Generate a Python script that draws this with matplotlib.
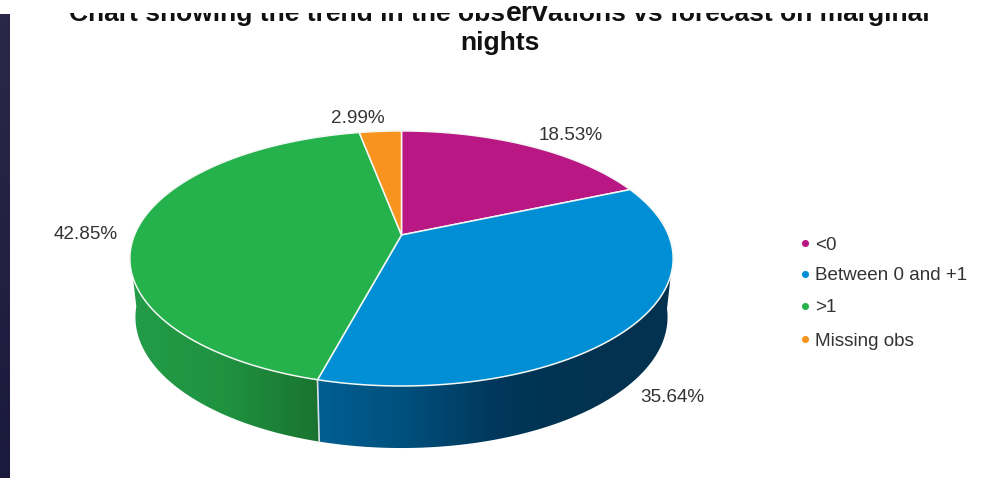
import matplotlib
matplotlib.use("Agg")
import matplotlib.pyplot as plt
import numpy as np
from matplotlib.colors import LinearSegmentedColormap
from matplotlib.patches import Polygon, Rectangle

labels = ["<0", "Between 0 and +1", ">1", "Missing obs"]
shares = [18.53, 35.64, 42.85, 2.99]
colors = ["#b91884", "#008fd5", "#25b14c", "#f7931e"]

plt.rcParams["font.family"] = ["Liberation Sans", "DejaVu Sans"]

fig = plt.figure(figsize=(10.02, 4.78), dpi=100)
ax = fig.add_axes([0, 0, 1, 1])  # axes in pixels, y going down


def disc_point(theta, cy, a, b, k=0.184):
    # point on a tilted disc, theta in degrees clockwise from the back
    u = np.sin(np.radians(theta))
    v = np.cos(np.radians(theta))
    w = 1 + k * v
    return np.column_stack([401.5 + a * u / w, cy - b * v / w])


def top(theta):
    return disc_point(np.atleast_1d(theta), 235, 267, 123.2)


def bottom(theta):
    return disc_point(np.atleast_1d(theta), 293, 261.5, 126.5)


def gradient_fill(x0, x1, y0, y1, stops, clip):
    cmap = LinearSegmentedColormap.from_list("shade", stops)
    grad = np.linspace(0, 1, 256).reshape(1, -1)
    im = ax.imshow(grad, cmap=cmap, extent=[x0, x1, y1, y0], aspect="auto", zorder=1)
    im.set_clip_path(clip)


# slice boundaries in degrees
edges = np.concatenate([[0], np.cumsum(shares)]) / np.sum(shares) * 360
seam = edges[2]

# dark strip down the left side
cmap = LinearSegmentedColormap.from_list("strip", ["#2b2748", "#1a1a3e"])
ax.imshow(np.linspace(0, 1, 64).reshape(-1, 1), cmap=cmap, extent=[0, 10, 478, 14], aspect="auto")

# side walls of the pie
left_arc = np.linspace(seam, 251, 60)
left_low = np.linspace(264, seam, 60)
green_wall = Polygon(np.vstack([top(left_arc), bottom(left_low)]), closed=True,
                     transform=ax.transData, fc="none", ec="none")
ax.add_patch(green_wall)
gradient_fill(130, 320, 250, 450, ["#239c48", "#1f9240", "#1a732f"], green_wall)

right_arc = np.linspace(108, seam, 90)
right_low = np.linspace(seam, 97, 90)
blue_wall = Polygon(np.vstack([top(right_arc), bottom(right_low)]), closed=True,
                    transform=ax.transData, fc="none", ec="none")
ax.add_patch(blue_wall)
gradient_fill(318, 675, 250, 450, ["#005f92", "#004f7c", "#00375a", "#02324f", "#02324f"], blue_wall)

ax.plot(*np.vstack([top(seam), bottom(seam)]).T, color="#d5e3e6", lw=1.2, zorder=2)

# top face, one wedge per share
for start, end, c in zip(edges[:-1], edges[1:], colors):
    arc = top(np.linspace(start, end, 120))
    pts = np.vstack([[[401.5, 235]], arc])
    ax.add_patch(Polygon(pts, closed=True, fc=c, ec="#f4f8f4", lw=1.1, zorder=3))

# share labels
label_xy = [(570.5, 136), (672.5, 398), (86, 234), (358, 118)]
for s, (x, y) in zip(shares, label_xy):
    ax.text(x, y, f"{s:.2f}%", ha="center", va="center", fontsize=13.6, color="#333333", zorder=4)

# legend
legend_y = [243, 274, 306, 339]
for name, c, y in zip(labels, colors, legend_y):
    ax.scatter([805], [y], s=26, marker="o", color=c, linewidths=0, zorder=4)
    ax.text(815, y + 2, name, ha="left", va="center", fontsize=13.6, color="#333333", zorder=4)

# title, its first line is cut off along the top
title_style = dict(fontsize=19, fontweight="bold", color="#111111", va="baseline")
cut = Rectangle((0, 13), 1002, 40, transform=ax.transData)
first = ax.text(505, 21, "Chart showing the trend in the obs", ha="right", **title_style)
last = ax.text(548, 21, "ations vs forecast on marginal", ha="left", **title_style)
for piece in (first, last):
    piece.set_clip_path(cut)
    piece.set_clip_on(True)
ax.text(527, 21, "erv", ha="center", va="baseline", fontsize=20.5, fontweight="bold", color="#111111")
ax.text(499.5, 50, "nights", ha="center", **title_style)

ax.set_xlim(0, 1002)
ax.set_ylim(478, 0)
ax.axis("off")

fig.savefig("out.png", dpi=100)
